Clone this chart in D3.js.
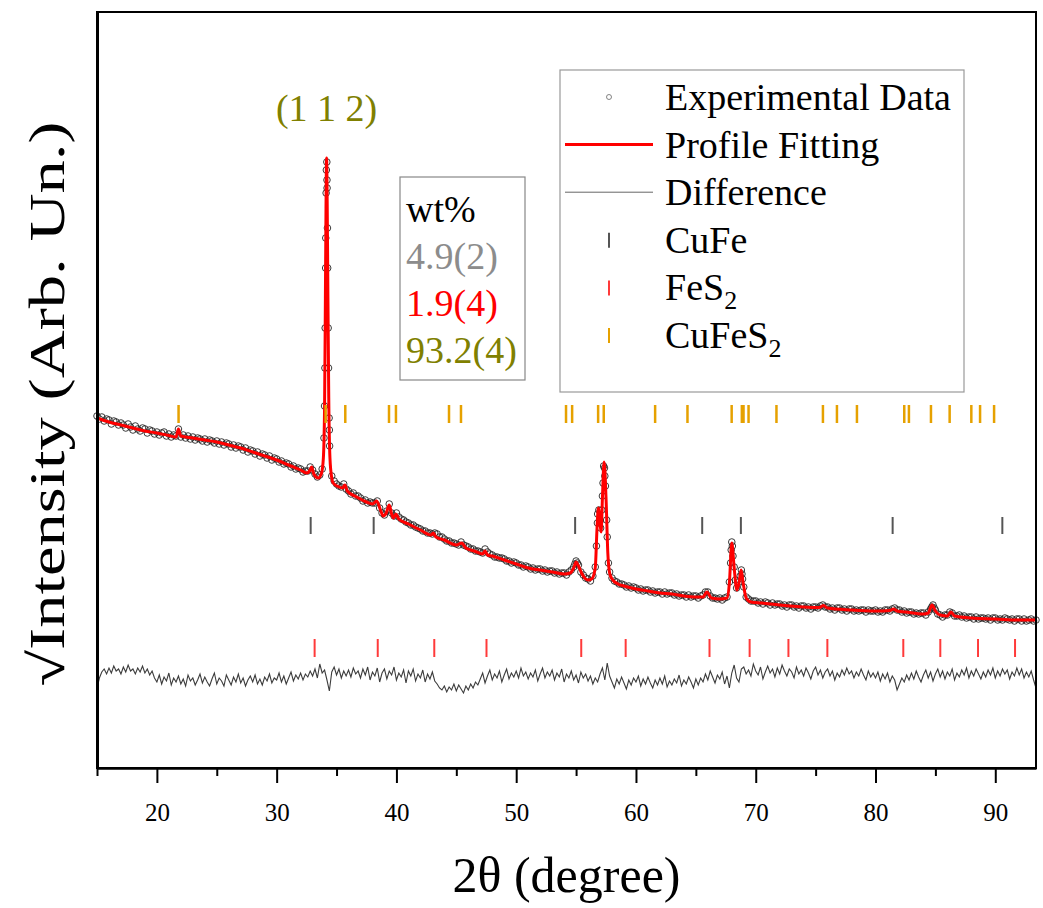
<!DOCTYPE html>
<html>
<head>
<meta charset="utf-8">
<script src="https://cdn.jsdelivr.net/npm/d3@7"></script>
<style>
  body { margin: 0; background: #fff; }
  svg text { font-family: "Liberation Serif", "Times New Roman", serif; }
</style>
</head>
<body>
<div id="xrd"></div>
<script>
// measurement grid of the observed / difference scans
const obsStart = 15;
const obsStep = 0.2;

// observed sqrt intensity, one row per degree (x.0, x.2, x.4, x.6, x.8)
const obsValues = [
  352, 349, 351, 347, 349,  348, 344, 347, 346, 343,  345, 343, 340, 344, 341,
  338, 342, 339, 337, 340,  339, 335, 338, 337, 334,  336, 333, 335, 336, 332,
  334, 331, 333, 332, 339,  331, 333, 330, 332, 329,  331, 328, 330, 329, 327,
  329, 326, 328, 327, 325,  327, 324, 326, 323, 325,  324, 321, 323, 320, 322,
  321, 318, 320, 316, 318,  317, 314, 316, 312, 314,  313, 310, 312, 308, 310,
  309, 306, 307, 304, 305,  304, 301, 302, 299, 300,  299, 296, 297, 297, 301,
  298, 294, 291, 293, 299,  362, 588, 338, 292, 287,  284, 282, 281, 284, 279,
  277, 274, 275, 272, 272,  270, 267, 268, 265, 266,  265, 265, 267, 260, 255,
  253, 257, 264, 255, 252,  255, 251, 249, 248, 246,  245, 243, 243, 241, 240,
  239, 237, 237, 235, 235,  234, 235, 234, 231, 231,  229, 227, 227, 225, 225,
  224, 223, 226, 223, 222,  221, 219, 219, 217, 217,  216, 215, 219, 216, 214,
  213, 211, 211, 210, 210,  209, 207, 207, 205, 206,  205, 203, 203, 201, 202,
  201, 199, 200, 198, 199,  199, 197, 198, 196, 197,  197, 195, 196, 194, 195,
  195, 193, 196, 198, 201,  207, 203, 196, 193, 190,  189, 187, 192, 201, 254,
  247, 272, 292, 231, 196,  190, 187, 186, 184, 184,  183, 181, 182, 180, 181,
  180, 178, 179, 177, 178,  178, 176, 177, 175, 176,  176, 174, 176, 174, 175,
  175, 173, 174, 172, 173,  173, 171, 173, 171, 172,  172, 170, 172, 173, 176,
  176, 172, 170, 170, 169,  170, 168, 170, 171, 186,  226, 201, 180, 186, 198,
  181, 171, 169, 167, 167,  167, 165, 166, 164, 166,  165, 163, 165, 163, 164,
  164, 162, 163, 161, 163,  163, 161, 162, 160, 162,  162, 160, 161, 159, 161,
  161, 160, 162, 163, 161,  161, 159, 160, 158, 160,  160, 158, 159, 157, 159,
  159, 157, 158, 157, 158,  158, 156, 158, 157, 157,  158, 156, 157, 156, 158,
  158, 157, 159, 160, 158,  158, 156, 157, 155, 156,  156, 154, 155, 154, 155,
  155, 153, 156, 159, 163,  158, 154, 153, 151, 153,  153, 156, 155, 152, 152,
  153, 151, 152, 150, 151,  151, 149, 151, 149, 150,  150, 149, 150, 148, 150,
  150, 148, 149, 148, 150,  149, 148, 149, 147, 149,  149, 147, 149, 147, 148,
  149, 147, 148
];

// extra observed points on the steep peak flanks [2theta, value]
const obsPeakPoints = [
  [33.95, 330], [34.03, 400], [34.05, 440], [34.09, 500], [34.1, 530], [34.13, 575],
  [34.15, 598], [34.19, 606], [34.21, 580], [34.24, 540], [34.26, 500], [34.3, 440],
  [34.33, 400], [34.38, 350], [34.42, 322],
  [54.9, 204], [55.1, 205],
  [56.7, 222], [56.78, 245], [56.9, 258], [57.05, 240], [57.15, 258], [57.25, 285],
  [57.3, 302], [57.37, 300], [57.45, 282], [57.55, 248], [57.7, 205],
  [67.9, 205], [67.95, 218], [68.05, 222], [68.1, 212], [68.3, 188], [68.7, 192],
  [68.85, 194], [68.9, 189], [84.7, 161], [84.9, 160]
];

// fitted profile [2theta, value]
const fitPoints = [
  [15, 350], [16, 346], [17, 343], [18, 340], [19, 337], [20, 335], [21, 332.5],
  [21.6, 331], [21.8, 339], [22, 332], [23, 330], [24, 328], [25, 326], [26, 323],
  [27, 320], [28, 316], [29, 312], [30, 308], [31, 303], [32, 298], [32.5, 295],
  [32.75, 297], [32.92, 301], [33.1, 294], [33.47, 290], [33.75, 295], [33.9, 310],
  [34.0, 360], [34.07, 470], [34.12, 560], [34.17, 610], [34.22, 565], [34.28, 470],
  [34.35, 370], [34.45, 310], [34.6, 290], [34.72, 285], [35.2, 281], [35.5, 280],
  [35.7, 283], [35.9, 277], [36.68, 271], [37.5, 266], [38, 264], [38.35, 267],
  [38.7, 257], [38.9, 252], [39.15, 255], [39.4, 263], [39.6, 254], [39.75, 250],
  [39.96, 254], [40.2, 249], [41, 244], [42, 238], [42.9, 233], [43.08, 235],
  [43.3, 231], [44, 228], [45, 223], [45.45, 225], [45.8, 220], [46.5, 217],
  [47.2, 214], [47.4, 217], [47.6, 213], [48, 212], [49, 208], [50, 204], [51, 200],
  [52, 198], [53, 196], [54, 194], [54.5, 195], [54.8, 200], [55, 206], [55.2, 202],
  [55.5, 194], [56, 188], [56.3, 189], [56.6, 200], [56.75, 240], [56.86, 260],
  [57, 245], [57.09, 236], [57.2, 270], [57.34, 306], [57.5, 270], [57.65, 215],
  [57.8, 195], [58, 189], [58.5, 184], [59, 182], [60, 179], [61, 177], [62, 175],
  [63, 174], [64, 172], [65, 171], [65.6, 171], [65.92, 176], [66.3, 170], [67, 169],
  [67.6, 170], [67.8, 185], [68, 225], [68.2, 200], [68.42, 178], [68.6, 185],
  [68.78, 198], [68.95, 185], [69.2, 170], [69.6, 166], [70.5, 165], [72, 163],
  [74, 161], [75.3, 160.5], [75.66, 162.5], [76, 160], [78, 158], [80, 157],
  [81.2, 157.5], [81.5, 159], [81.8, 157], [82.5, 156], [84, 154], [84.4, 155],
  [84.72, 163], [85, 157], [85.4, 153], [86, 152], [86.3, 156], [86.6, 152],
  [88, 150], [90, 149], [92, 148], [93.4, 148]
];

// difference curve (shifted), same grid as obsValues
const diffValues = [
  80, 90, 96, 99, 94,  100, 95, 102, 97, 99,  94, 101, 96, 103, 97,
  99, 94, 100, 96, 102,  95, 99, 93, 97, 90,  86, 93, 84, 91, 87,
  95, 83, 90, 86, 92,  84, 89, 82, 93, 87,  90, 83, 88, 94, 85,
  91, 86, 82, 89, 95,  84, 90, 87, 82, 93,  88, 83, 91, 86, 94,
  85, 90, 82, 88, 92,  86, 93, 84, 89, 83,  91, 87, 94, 85, 90,
  88, 95, 86, 92, 84,  90, 96, 87, 93, 89,  95, 88, 94, 91, 97,
  92, 99, 90, 104, 95,  98, 88, 77, 96, 101,  93, 99, 90, 97, 92,
  98, 91, 100, 94, 97,  90, 99, 93, 101, 88,  96, 92, 100, 86, 95,
  99, 89, 97, 93, 101,  88, 95, 91, 98, 85,  97, 92, 99, 87, 94,
  90, 98, 86, 94, 89,  96, 87, 84, 80, 78,  82, 76, 81, 78, 84,
  77, 83, 79, 75, 82,  78, 84, 80, 86, 83,  89, 95, 85, 92, 98,
  88, 94, 90, 97, 86,  93, 99, 89, 95, 91,  97, 90, 100, 92, 96,
  89, 95, 91, 98, 87,  94, 100, 90, 96, 92,  98, 88, 95, 91, 99,
  86, 94, 90, 97, 88,  93, 85, 96, 90, 94,  87, 92, 84, 90, 86,
  94, 100, 88, 105, 92,  86, 80, 89, 84, 91,  85, 79, 88, 83, 90,
  86, 92, 82, 89, 84,  91, 85, 80, 88, 83,  90, 84, 92, 81, 87,
  83, 89, 85, 93, 82,  88, 84, 91, 86, 80,  89, 83, 90, 86, 94,
  88, 97, 91, 85, 93,  89, 96, 84, 92, 80,  95, 103, 90, 86, 99,
  101, 94, 98, 92, 104,  97, 93, 101, 89, 96,  102, 95, 99, 91, 100,
  94, 103, 97, 92, 99,  96, 90, 101, 94, 98,  92, 100, 95, 89, 97,
  101, 93, 98, 90, 96,  99, 92, 97, 88, 95,  91, 98, 93, 100, 94,
  97, 90, 96, 92, 99,  93, 88, 97, 91, 95,  90, 96, 87, 94, 89,
  95, 86, 92, 88, 78,  84, 90, 86, 93, 88,  95, 89, 97, 91, 86,
  93, 98, 90, 96, 87,  94, 99, 91, 97, 89,  96, 92, 99, 88, 95,
  91, 98, 93, 100, 90,  97, 92, 99, 94, 89,  96, 91, 98, 93, 100,
  90, 97, 92, 99, 94,  98, 89, 96, 92, 100,  93, 99, 90, 96, 91,
  97, 88, 80
];

// Bragg reflection positions (2theta) of each phase
const cuFeS2Peaks = [21.81, 34.09, 35.73, 39.38, 39.96, 44.39, 45.39, 54.16, 54.67, 56.84,
  57.31, 61.6, 64.3, 67.99, 68.84, 68.98, 69.4, 71.73, 75.61, 76.78, 78.45, 82.4, 82.79,
  84.63, 86.19, 88.0, 88.73, 89.9];
const cuFePeaks = [32.84, 38.1, 54.92, 65.53, 68.76, 81.43, 90.59];
const feS2Peaks = [33.17, 38.44, 43.16, 47.52, 55.43, 59.14, 66.14, 69.49, 72.73, 75.98,
  82.32, 85.41, 88.56, 91.65];

const xTicks = [20, 30, 40, 50, 60, 70, 80, 90];
const xMinorTicks = [15, 25, 35, 45, 55, 65, 75, 85];

const legendLabels = ['Experimental Data', 'Profile Fitting', 'Difference', 'CuFe', 'FeS|2', 'CuFeS|2'];
const wtLabels = ['wt%', '4.9(2)', '1.9(4)', '93.2(4)'];
const peakLabel = '(1 1 2)';

/**
 * Rietveld refinement plot
 */
class XrdPlot {
  constructor() {
    this.divId = 'xrd';
    this.visConfig = {
      width: 1043,
      height: 908,
      left: 97,
      right: 1036,
      top: 12,
      bottom: 768
    };
    this.colors = {
      obs: '#262626',
      fit: '#ff0000',
      diff: '#3c3c3c',
      cuFe: '#555555',
      feS2: '#ff3a3a',
      cuFeS2: '#e6a100',
      olive: '#808000',
      gray: '#8c8c8c'
    };
  }

  init() {
    let cfg = this.visConfig;

    let xscale = d3.scaleLinear().domain([15, 93.4]).range([cfg.left, cfg.right]);
    let yscale = d3.scaleLinear().domain([0, 756]).range([cfg.bottom, cfg.top]);

    let svg = d3.select(`#${this.divId}`)
      .append('svg')
      .attr('width', cfg.width)
      .attr('height', cfg.height);

    // observed scan points
    let obs = obsValues.map((v, i) => [obsStart + i * obsStep, v]).concat(obsPeakPoints);
    svg.append('g')
      .selectAll('circle')
      .data(obs)
      .enter()
      .append('circle')
      .attr('cx', (d) => xscale(d[0]))
      .attr('cy', (d) => yscale(d[1]))
      .attr('r', 3.3)
      .style('fill', 'none')
      .style('stroke', this.colors.obs)
      .style('stroke-width', 0.9);

    // fitted profile
    let line = d3.line()
      .x((d) => xscale(d[0]))
      .y((d) => yscale(d[1]))
      .curve(d3.curveMonotoneX);
    svg.append('path')
      .datum(fitPoints)
      .attr('d', line)
      .style('fill', 'none')
      .style('stroke', this.colors.fit)
      .style('stroke-width', 3);

    // difference
    let diff = diffValues.map((v, i) => [obsStart + i * obsStep, v]);
    svg.append('path')
      .datum(diff)
      .attr('d', d3.line().x((d) => xscale(d[0])).y((d) => yscale(d[1])))
      .style('fill', 'none')
      .style('stroke', this.colors.diff)
      .style('stroke-width', 1.1);

    // reflection markers, one row per phase
    let rows = [
      { peaks: cuFeS2Peaks, lo: 345, hi: 363, color: this.colors.cuFeS2, w: 2.5 },
      { peaks: cuFePeaks, lo: 234, hi: 251, color: this.colors.cuFe, w: 2 },
      { peaks: feS2Peaks, lo: 111, hi: 129, color: this.colors.feS2, w: 2 }
    ];
    rows.forEach((row) => {
      svg.append('g')
        .selectAll('line')
        .data(row.peaks)
        .enter()
        .append('line')
        .attr('x1', (d) => xscale(d))
        .attr('x2', (d) => xscale(d))
        .attr('y1', yscale(row.lo))
        .attr('y2', yscale(row.hi))
        .style('stroke', row.color)
        .style('stroke-width', row.w);
    });

    // frame
    svg.append('rect')
      .attr('x', cfg.left)
      .attr('y', cfg.top)
      .attr('width', cfg.right - cfg.left)
      .attr('height', cfg.bottom - cfg.top)
      .style('fill', 'none')
      .style('stroke', '#000')
      .style('stroke-width', 2);

    // bottom axis
    let xaxis = svg.append('g')
      .attr('transform', `translate(0, ${cfg.bottom})`)
      .call(d3.axisBottom(xscale).tickValues(xTicks).tickSize(15).tickSizeOuter(0)
        .tickPadding(20).tickFormat(d3.format('d')));
    xaxis.select('.domain').style('stroke-width', 2.5);
    xaxis.selectAll('.tick line').style('stroke-width', 2);
    xaxis.selectAll('.tick text')
      .style('font-size', '25px')
      .style('font-family', '"Liberation Serif", serif')
      .style('fill', '#000');

    svg.append('g')
      .attr('transform', `translate(0, ${cfg.bottom})`)
      .call(d3.axisBottom(xscale).tickValues(xMinorTicks).tickSize(8).tickFormat(''))
      .call((g) => g.select('.domain').remove())
      .selectAll('.tick line').style('stroke-width', 2);

    // left axis, no ticks
    svg.append('g')
      .attr('transform', `translate(${cfg.left}, 0)`)
      .call(d3.axisLeft(yscale).tickValues([]).tickSizeOuter(0))
      .select('.domain').style('stroke-width', 3);

    // axis titles
    svg.append('text')
      .attr('x', (cfg.left + cfg.right) / 2)
      .attr('y', 892)
      .attr('text-anchor', 'middle')
      .style('font-size', '50px')
      .text('2θ (degree)');

    svg.append('g')
      .attr('transform', `translate(64, 404) rotate(-90)`)
      .append('text')
      .attr('text-anchor', 'middle')
      .attr('textLength', 565)
      .attr('lengthAdjust', 'spacingAndGlyphs')
      .style('font-size', '50px')
      .text('√Intensity (Arb. Un.)');

    // peak index
    svg.append('text')
      .attr('x', xscale(34.17))
      .attr('y', 121)
      .attr('text-anchor', 'middle')
      .style('font-size', '38px')
      .style('fill', this.colors.olive)
      .text(peakLabel);

    this.drawWtBox(svg);
    this.drawLegend(svg);
  }

  drawWtBox(svg) {
    let colors = ['#000', this.colors.gray, '#ff0000', this.colors.olive];
    svg.append('rect')
      .attr('x', 400).attr('y', 177)
      .attr('width', 125).attr('height', 203)
      .style('fill', '#fff')
      .style('stroke', '#888')
      .style('stroke-width', 1.2);
    svg.append('g')
      .selectAll('text')
      .data(wtLabels)
      .enter()
      .append('text')
      .attr('x', 406)
      .attr('y', (d, i) => 222 + i * 47)
      .style('font-size', '38px')
      .style('fill', (d, i) => colors[i])
      .text((d) => d);
  }

  drawLegend(svg) {
    let x0 = 560, y0 = 70, rowH = 47.6, base = 110;
    let symX = 609;
    svg.append('rect')
      .attr('x', x0).attr('y', y0)
      .attr('width', 404).attr('height', 322)
      .style('fill', '#fff')
      .style('stroke', '#999')
      .style('stroke-width', 1.2);

    let mid = (i) => base + i * rowH - 13;

    svg.append('circle')
      .attr('cx', symX).attr('cy', mid(0)).attr('r', 2.5)
      .style('fill', 'none').style('stroke', '#666').style('stroke-width', 0.8);
    svg.append('line')
      .attr('x1', 565).attr('x2', 653).attr('y1', mid(1)).attr('y2', mid(1))
      .style('stroke', this.colors.fit).style('stroke-width', 3);
    svg.append('line')
      .attr('x1', 565).attr('x2', 653).attr('y1', mid(2)).attr('y2', mid(2))
      .style('stroke', '#666').style('stroke-width', 1);
    [this.colors.cuFe, this.colors.feS2, this.colors.cuFeS2].forEach((c, k) => {
      svg.append('line')
        .attr('x1', symX).attr('x2', symX)
        .attr('y1', mid(3 + k) - 7).attr('y2', mid(3 + k) + 8)
        .style('stroke', c).style('stroke-width', 2);
    });

    let texts = svg.append('g')
      .selectAll('text')
      .data(legendLabels)
      .enter()
      .append('text')
      .attr('x', 665)
      .attr('y', (d, i) => base + i * rowH)
      .style('font-size', '38px');
    texts.each(function (d) {
      let parts = d.split('|');
      let t = d3.select(this);
      t.append('tspan').text(parts[0]);
      if (parts.length > 1) {
        t.append('tspan').attr('dy', 9).style('font-size', '26px').text(parts[1]);
      }
    });
  }
}

let plot = new XrdPlot();
plot.init();
</script>
</body>
</html>
